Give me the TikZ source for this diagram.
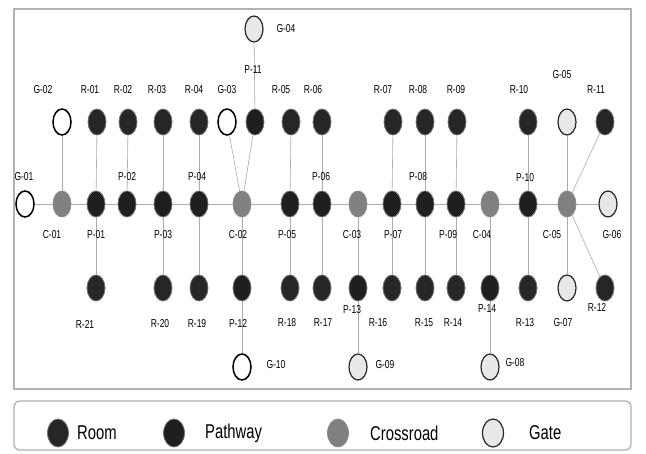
\documentclass[tikz,border=0pt]{standalone}
\usepackage{fontspec}
\newfontfamily\narrow[FakeStretch=0.74]{Liberation Sans}
\usetikzlibrary{shapes.geometric}
\begin{document}
\begin{tikzpicture}[x=1pt,y=-1pt,
  nd/.style={ellipse,minimum width=18pt,minimum height=26pt,inner sep=0pt,draw},
  room/.style={nd,fill=black!85,draw=black!55,line width=0.8pt},
  pathw/.style={nd,fill=black!88,draw=black!55,line width=0.8pt},
  cross/.style={nd,fill=black!50,draw=black!45,line width=0.8pt},
  gatew/.style={nd,fill=white,draw=black,line width=1.5pt},
  gateg/.style={nd,fill=gray!18,draw=black!85,line width=1.2pt},
  edge/.style={draw=gray!65,line width=0.6pt},
  lbl/.style={inner sep=0pt,font=\narrow\fontsize{11.5}{11.5}\selectfont},
  leg/.style={inner sep=0pt,anchor=west,font=\narrow\fontsize{20}{20}\selectfont},
  lgn/.style={minimum width=21pt,minimum height=28pt}]
\useasboundingbox (0,0) rectangle (646,454);
\fill[white] (0,0) rectangle (646,454);
% frames
\draw[draw=gray!60,line width=1.5pt] (14,9) rectangle (631,389);
\draw[draw=gray!60,line width=1.3pt,rounded corners=6pt] (14,401) rectangle (631,450);
% main row
\node[gatew] (G01) at (25,204) {};
\node[cross] (C01) at (62,204) {};
\node[pathw] (P01) at (96,204) {};
\node[pathw] (P02) at (127,204) {};
\node[pathw] (P03) at (163,204) {};
\node[pathw] (P04) at (199,204) {};
\node[cross] (C02) at (242,204) {};
\node[pathw] (P05) at (290,204) {};
\node[pathw] (P06) at (322,204) {};
\node[cross] (C03) at (358,204) {};
\node[pathw] (P07) at (392,204) {};
\node[pathw] (P08) at (425,204) {};
\node[pathw] (P09) at (456,204) {};
\node[cross] (C04) at (490,204) {};
\node[pathw] (P10) at (528,204) {};
\node[cross] (C05) at (567,204) {};
\node[gateg] (G06) at (608,204) {};
% top row
\node[gateg] (G04) at (254,29) {};
\node[gatew] (G02) at (62,122) {};
\node[room] (R01) at (97,122) {};
\node[room] (R02) at (128,122) {};
\node[room] (R03) at (163,122) {};
\node[room] (R04) at (199,122) {};
\node[gatew] (G03) at (227,122) {};
\node[pathw] (P11) at (255,122) {};
\node[room] (R05) at (291,122) {};
\node[room] (R06) at (322,122) {};
\node[room] (R07) at (393,122) {};
\node[room] (R08) at (425,122) {};
\node[room] (R09) at (457,122) {};
\node[room] (R10) at (528,122) {};
\node[gateg] (G05) at (567,122) {};
\node[room] (R11) at (605,122) {};
% bottom row
\node[room] (R21) at (96,288) {};
\node[room] (R20) at (163,288) {};
\node[room] (R19) at (199,288) {};
\node[pathw] (P12) at (242,288) {};
\node[room] (R18) at (290,288) {};
\node[room] (R17) at (322,288) {};
\node[pathw] (P13) at (358,288) {};
\node[room] (R16) at (392,288) {};
\node[room] (R15) at (425,288) {};
\node[room] (R14) at (456,288) {};
\node[pathw] (P14) at (490,288) {};
\node[room] (R13) at (528,288) {};
\node[gateg] (G07) at (567,288) {};
\node[room] (R12) at (605,288) {};
\node[gatew] (G10) at (242,367) {};
\node[gateg] (G09) at (358,367) {};
\node[gateg] (G08) at (490,367) {};
% edges main chain
\draw[edge] (G01)--(C01)--(P01)--(P02)--(P03)--(P04)--(C02)--(P05)--(P06)--(C03)--(P07)--(P08)--(P09)--(C04)--(P10)--(C05)--(G06);
% top edges
\draw[edge] (G02)--(C01);
\draw[edge] (R01)--(P01);
\draw[edge] (R02)--(P02);
\draw[edge] (R03)--(P03);
\draw[edge] (R04)--(P04);
\draw[edge] (G03)--(C02);
\draw[edge] (P11)--(C02);
\draw[edge] (G04)--(P11);
\draw[edge] (R05)--(P05);
\draw[edge] (R06)--(P06);
\draw[edge] (R07)--(P07);
\draw[edge] (R08)--(P08);
\draw[edge] (R09)--(P09);
\draw[edge] (R10)--(P10);
\draw[edge] (G05)--(C05);
\draw[edge] (R11)--(C05);
% bottom edges
\draw[edge] (R21)--(P01);
\draw[edge] (R20)--(P03);
\draw[edge] (R19)--(P04);
\draw[edge] (P12)--(C02);
\draw[edge] (G10)--(P12);
\draw[edge] (R18)--(P05);
\draw[edge] (R17)--(P06);
\draw[edge] (P13)--(C03);
\draw[edge] (G09)--(P13);
\draw[edge] (R16)--(P07);
\draw[edge] (R15)--(P08);
\draw[edge] (R14)--(P09);
\draw[edge] (P14)--(C04);
\draw[edge] (G08)--(P14);
\draw[edge] (R13)--(P10);
\draw[edge] (G07)--(C05);
\draw[edge] (R12)--(C05);
% labels top
\node[lbl] (lG02) at (43,90) {G-02};
\node[lbl] (lR01) at (90,90) {R-01};
\node[lbl] (lR02) at (123,90) {R-02};
\node[lbl] (lR03) at (157,90) {R-03};
\node[lbl] (lR04) at (194,90) {R-04};
\node[lbl] (lG03) at (227,90) {G-03};
\node[lbl] (lR05) at (281,90) {R-05};
\node[lbl] (lR06) at (313,90) {R-06};
\node[lbl] (lR07) at (383,90) {R-07};
\node[lbl] (lR08) at (418,90) {R-08};
\node[lbl] (lR09) at (456,90) {R-09};
\node[lbl] (lR10) at (519,90) {R-10};
\node[lbl] (lG05) at (562,75) {G-05};
\node[lbl] (lR11) at (596,90) {R-11};
\node[lbl] (lG04) at (286,29) {G-04};
\node[lbl] (lP11) at (253,70) {P-11};
% labels above main
\node[lbl] (lG01) at (24,177) {G-01};
\node[lbl] (lP02) at (127,177) {P-02};
\node[lbl] (lP04) at (197,177) {P-04};
\node[lbl] (lP06) at (321,177) {P-06};
\node[lbl] (lP08) at (418,177) {P-08};
\node[lbl] (lP10) at (525,178) {P-10};
% labels below main
\node[lbl] (lC01) at (52,235) {C-01};
\node[lbl] (lP01) at (96,235) {P-01};
\node[lbl] (lP03) at (163,235) {P-03};
\node[lbl] (lC02) at (238,235) {C-02};
\node[lbl] (lP05) at (287,235) {P-05};
\node[lbl] (lC03) at (352,235) {C-03};
\node[lbl] (lP07) at (393,235) {P-07};
\node[lbl] (lP09) at (448,235) {P-09};
\node[lbl] (lC04) at (482,235) {C-04};
\node[lbl] (lC05) at (552,235) {C-05};
\node[lbl] (lG06) at (612,235) {G-06};
% labels bottom
\node[lbl] (lR21) at (85,324) {R-21};
\node[lbl] (lR20) at (160,324) {R-20};
\node[lbl] (lR19) at (197,324) {R-19};
\node[lbl] (lP12) at (238,323) {P-12};
\node[lbl] (lR18) at (287,323) {R-18};
\node[lbl] (lR17) at (323,323) {R-17};
\node[lbl] (lP13) at (352,310) {P-13};
\node[lbl] (lR16) at (378,323) {R-16};
\node[lbl] (lR15) at (424,323) {R-15};
\node[lbl] (lR14) at (453,323) {R-14};
\node[lbl] (lP14) at (487,309) {P-14};
\node[lbl] (lR13) at (525,323) {R-13};
\node[lbl] (lG07) at (563,323) {G-07};
\node[lbl] (lR12) at (597,307) {R-12};
\node[lbl] (lG10) at (276,365) {G-10};
\node[lbl] (lG09) at (385,365) {G-09};
\node[lbl] (lG08) at (515,363) {G-08};
% legend
\node[room,lgn] (kR) at (58,433) {};
\node[leg] (tR) at (77,433) {Room};
\node[pathw,lgn] (kP) at (174,433) {};
\node[leg] (tP) at (205,433) {Pathway};
\node[cross,lgn] (kC) at (338,433) {};
\node[leg] (tC) at (370,433) {Crossroad};
\node[gateg,lgn] (kG) at (493,433) {};
\node[leg] (tG) at (529,433) {Gate};
\end{tikzpicture}
\end{document}
